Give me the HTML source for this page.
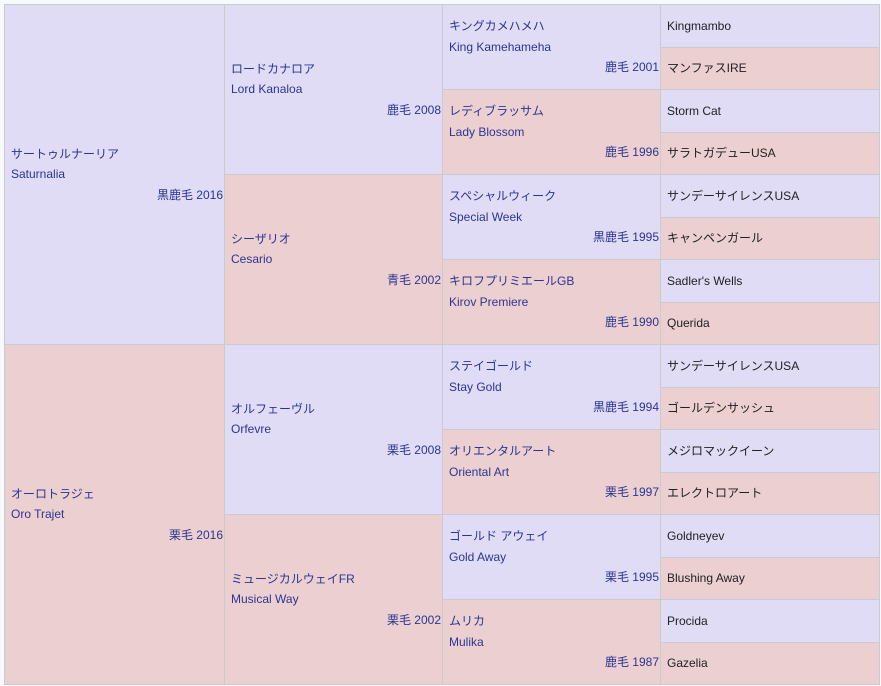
<!DOCTYPE html>
<html><head><meta charset="utf-8"><style>
body{margin:0;width:881px;height:686px;background:#f8f9fa;position:relative;overflow:hidden;font-family:"Liberation Sans","Noto Sans CJK JP",sans-serif;font-size:12px}
.c{position:absolute;box-sizing:border-box;border-right:1px solid #c8ccd1;border-bottom:1px solid #c8ccd1;display:flex;flex-direction:column;justify-content:center;padding:0 1px 0 6px;color:#2b3590;line-height:20.5px}
.b{background:#e0dcf6}.p{background:#ecd0d1}
.r{text-align:right}
.l{color:#202122;padding-left:6px}
#t{position:absolute;left:4px;top:4px;width:876px;height:681px;border-top:1px solid #c8ccd1;border-left:1px solid #c8ccd1;box-sizing:border-box}
</style></head><body>
<div id="t"></div>
<div class="c b" style="left:5px;top:5px;width:220px;height:340px"><div>サートゥルナーリア</div><div>Saturnalia</div><div class="r">黒鹿毛 2016</div></div>
<div class="c p" style="left:5px;top:345px;width:220px;height:340px"><div>オーロトラジェ</div><div>Oro Trajet</div><div class="r">栗毛 2016</div></div>

<div class="c b" style="left:225px;top:5px;width:218px;height:170px"><div>ロードカナロア</div><div>Lord Kanaloa</div><div class="r">鹿毛 2008</div></div>
<div class="c p" style="left:225px;top:175px;width:218px;height:170px"><div>シーザリオ</div><div>Cesario</div><div class="r">青毛 2002</div></div>
<div class="c b" style="left:225px;top:345px;width:218px;height:170px"><div>オルフェーヴル</div><div>Orfevre</div><div class="r">栗毛 2008</div></div>
<div class="c p" style="left:225px;top:515px;width:218px;height:170px"><div>ミュージカルウェイFR</div><div>Musical Way</div><div class="r">栗毛 2002</div></div>

<div class="c b" style="left:443px;top:5px;width:218px;height:85px"><div>キングカメハメハ</div><div>King Kamehameha</div><div class="r">鹿毛 2001</div></div>
<div class="c p" style="left:443px;top:90px;width:218px;height:85px"><div>レディブラッサム</div><div>Lady Blossom</div><div class="r">鹿毛 1996</div></div>
<div class="c b" style="left:443px;top:175px;width:218px;height:85px"><div>スペシャルウィーク</div><div>Special Week</div><div class="r">黒鹿毛 1995</div></div>
<div class="c p" style="left:443px;top:260px;width:218px;height:85px"><div>キロフプリミエールGB</div><div>Kirov Premiere</div><div class="r">鹿毛 1990</div></div>
<div class="c b" style="left:443px;top:345px;width:218px;height:85px"><div>ステイゴールド</div><div>Stay Gold</div><div class="r">黒鹿毛 1994</div></div>
<div class="c p" style="left:443px;top:430px;width:218px;height:85px"><div>オリエンタルアート</div><div>Oriental Art</div><div class="r">栗毛 1997</div></div>
<div class="c b" style="left:443px;top:515px;width:218px;height:85px"><div>ゴールド アウェイ</div><div>Gold Away</div><div class="r">栗毛 1995</div></div>
<div class="c p" style="left:443px;top:600px;width:218px;height:85px"><div>ムリカ</div><div>Mulika</div><div class="r">鹿毛 1987</div></div>

<div class="c b l" style="left:661px;top:5px;width:219px;height:42.5px">Kingmambo</div>
<div class="c p l" style="left:661px;top:47.5px;width:219px;height:42.5px">マンファスIRE</div>
<div class="c b l" style="left:661px;top:90px;width:219px;height:42.5px">Storm Cat</div>
<div class="c p l" style="left:661px;top:132.5px;width:219px;height:42.5px">サラトガデューUSA</div>
<div class="c b l" style="left:661px;top:175px;width:219px;height:42.5px">サンデーサイレンスUSA</div>
<div class="c p l" style="left:661px;top:217.5px;width:219px;height:42.5px">キャンペンガール</div>
<div class="c b l" style="left:661px;top:260px;width:219px;height:42.5px">Sadler's Wells</div>
<div class="c p l" style="left:661px;top:302.5px;width:219px;height:42.5px">Querida</div>
<div class="c b l" style="left:661px;top:345px;width:219px;height:42.5px">サンデーサイレンスUSA</div>
<div class="c p l" style="left:661px;top:387.5px;width:219px;height:42.5px">ゴールデンサッシュ</div>
<div class="c b l" style="left:661px;top:430px;width:219px;height:42.5px">メジロマックイーン</div>
<div class="c p l" style="left:661px;top:472.5px;width:219px;height:42.5px">エレクトロアート</div>
<div class="c b l" style="left:661px;top:515px;width:219px;height:42.5px">Goldneyev</div>
<div class="c p l" style="left:661px;top:557.5px;width:219px;height:42.5px">Blushing Away</div>
<div class="c b l" style="left:661px;top:600px;width:219px;height:42.5px">Procida</div>
<div class="c p l" style="left:661px;top:642.5px;width:219px;height:42.5px">Gazelia</div>
</body></html>
